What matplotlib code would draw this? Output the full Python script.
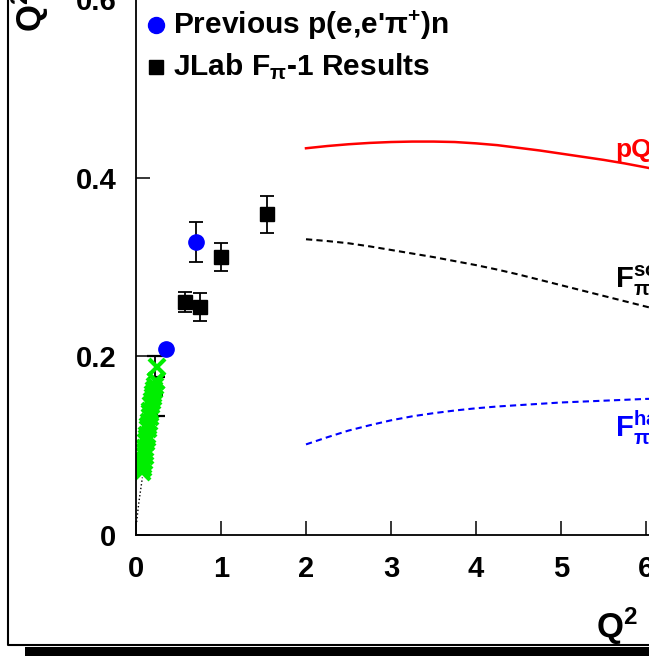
import numpy as np
import matplotlib
matplotlib.use('Agg')
import matplotlib.pyplot as plt
from matplotlib.lines import Line2D
from matplotlib.patches import Rectangle

plt.rcParams['font.family'] = ['Liberation Sans', 'DejaVu Sans']
plt.rcParams['font.weight'] = 'bold'
plt.rcParams['mathtext.default'] = 'regular'

# Previous p(e,e'pi+)n data
prev_q2 = [0.35, 0.70]
prev_val = [0.208, 0.328]
prev_err = [0.0, 0.022]

# JLab F_pi-1 results
jlab_q2 = [0.58, 0.75, 1.00, 1.54]
jlab_val = [0.261, 0.255, 0.311, 0.359]
jlab_err = [0.011, 0.016, 0.016, 0.021]

# low Q2 black points (behind the green cluster)
low_q2 = [0.22, 0.25]
low_val = [0.178, 0.155]
low_err = [0.022, 0.022]

# green (pi-e scattering) points
green_q2 = [0.075, 0.08, 0.085, 0.09, 0.10, 0.105, 0.11, 0.12, 0.125, 0.13, 0.14, 0.145,
            0.15, 0.16, 0.165, 0.17, 0.18, 0.19, 0.195, 0.20, 0.21, 0.22, 0.23, 0.24, 0.25]
green_val = [0.070, 0.075, 0.078, 0.082, 0.088, 0.093, 0.097, 0.104, 0.108, 0.112, 0.118,
             0.122, 0.126, 0.132, 0.136, 0.139, 0.145, 0.150, 0.154, 0.157, 0.162, 0.166,
             0.172, 0.172, 0.188]

# dotted low-Q2 curve
vmd_q2 = [0.008, 0.02, 0.035, 0.05, 0.065, 0.075]
vmd_val = [0.014, 0.025, 0.037, 0.047, 0.057, 0.064]

# model curves
curve_q2 = [2.0, 2.25, 2.5, 2.75, 3.0, 3.25, 3.5, 3.75, 4.0, 4.25, 4.5, 4.75,
            5.0, 5.25, 5.5, 5.75, 6.0, 6.25, 6.5]
pqcd_val = [0.433, 0.4355, 0.4375, 0.439, 0.440, 0.4405, 0.4405, 0.440, 0.4385, 0.4365,
            0.4335, 0.4305, 0.427, 0.4235, 0.420, 0.416, 0.4115, 0.407, 0.4025]
soft_val = [0.331, 0.329, 0.3265, 0.323, 0.319, 0.315, 0.311, 0.3065, 0.302, 0.297,
            0.2915, 0.2855, 0.2795, 0.2735, 0.2675, 0.2615, 0.2555, 0.2495, 0.2435]
hard_val = [0.101, 0.109, 0.1165, 0.1225, 0.128, 0.1325, 0.136, 0.139, 0.1415, 0.1435,
            0.145, 0.1465, 0.148, 0.149, 0.150, 0.151, 0.152, 0.1525, 0.153]

W, H = 649, 656


def fx(px):
    return px / W


def fy(py):
    return 1 - py / H


fig = plt.figure(figsize=(6.49, 6.56), dpi=100)
xmax, ymax = 7.0, 0.7
ax = fig.add_axes([fx(136), fy(534.5), xmax * 85 / W, ymax * 892 / H])
ax.set_xlim(0, xmax)
ax.set_ylim(0, ymax)

ax.plot(vmd_q2, vmd_val, ls=':', color='black', lw=1)
ax.errorbar(low_q2, low_val, yerr=low_err, fmt='none', ecolor='black',
            capsize=6, elinewidth=1.3, capthick=1.6)
ax.plot(green_q2, green_val, 'x', color='#00ee00', ms=12, mew=3)
ax.errorbar(prev_q2, prev_val, yerr=prev_err, fmt='o', color='blue', ecolor='black',
            ms=11, capsize=5, elinewidth=1.3, capthick=1.3)
ax.errorbar(jlab_q2, jlab_val, yerr=jlab_err, fmt='s', color='black', ms=10,
            capsize=5, elinewidth=1.3, capthick=1.3)

ax.plot(curve_q2, pqcd_val, color='red', lw=1.8)
ax.plot(curve_q2, soft_val, color='black', lw=1.5, ls=(0, (3, 2)))
ax.plot(curve_q2, hard_val, color='blue', lw=1.5, ls=(0, (3, 2)))

ax.text(5.635, 0.423, 'pQCD', color='red', fontsize=19, fontweight='bold')
ax.text(5.635, 0.276, r'F$_{\pi}^{soft}$', color='black', fontsize=21, fontweight='bold')
ax.text(5.635, 0.109, r'F$_{\pi}^{hard}$', color='blue', fontsize=21, fontweight='bold')

ax.set_xticks([0, 1, 2, 3, 4, 5, 6, 7])
ax.set_yticks([0, 0.2, 0.4, 0.6])
ax.set_yticklabels(['0', '0.2', '0.4', '0.6'])
ax.tick_params(direction='in', length=10, width=1.1, labelsize=21, pad=15)
ax.tick_params(axis='y', pad=14)
for lab in ax.get_xticklabels() + ax.get_yticklabels():
    lab.set_fontweight('bold')
for s in ax.spines.values():
    s.set_linewidth(1.3)

# legend
fig.add_artist(Line2D([fx(156)], [fy(25)], marker='o', color='blue', ms=11.5, ls='none'))
fig.add_artist(Line2D([fx(156)], [fy(67)], marker='s', color='black', ms=10, ls='none'))
fig.text(fx(173), fy(25), r"Previous p(e,e'$\pi^{+}$)n", fontsize=21.5, fontweight='bold',
         va='center')
fig.text(fx(173), fy(67), r'JLab F$_{\pi}$-1 Results', fontsize=21.5, fontweight='bold',
         va='center')

# axis titles
fig.text(fx(638), fy(638), r'Q$^{2}$', fontsize=25, fontweight='bold', ha='right', va='baseline')
fig.text(fx(30), fy(32), r'Q$^{2}$F$_{\pi}$', fontsize=25, fontweight='bold',
         rotation=90, ha='center', va='bottom')

# canvas frame and shadow
fig.add_artist(Line2D([fx(8), fx(8), fx(W)], [fy(-5), fy(645), fy(645)],
                      color='black', lw=1.5))
fig.add_artist(Rectangle((fx(25), 0), fx(W) - fx(25), fy(647), color='black', lw=0))

fig.savefig('out.png', dpi=100)
